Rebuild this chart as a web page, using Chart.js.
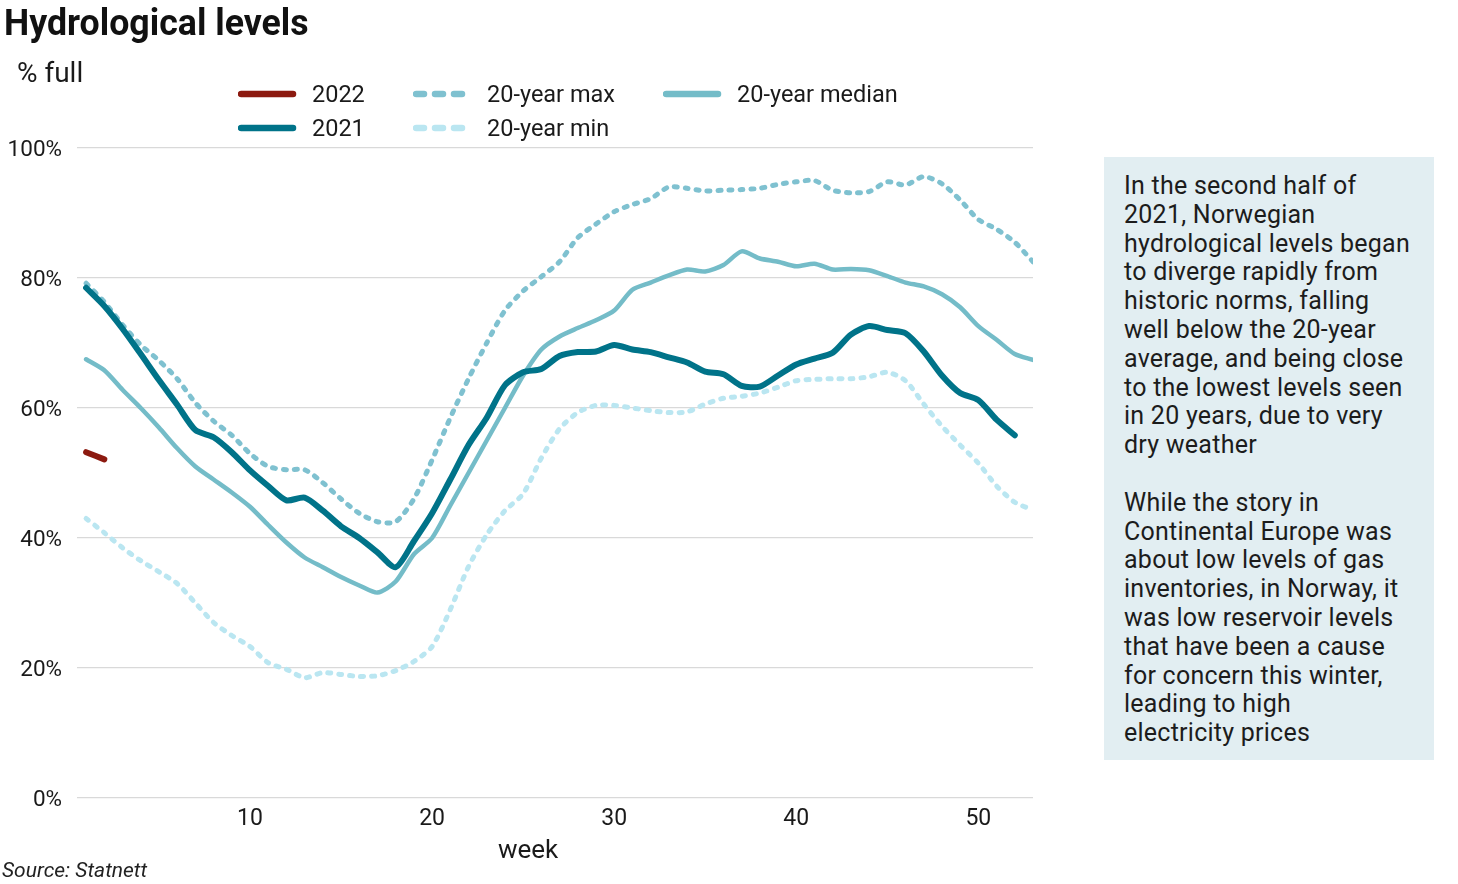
<!DOCTYPE html>
<html>
<head>
<meta charset="utf-8">
<script src="https://cdn.jsdelivr.net/npm/chart.js@4.4.1/dist/chart.umd.min.js"></script>
<style>
  html, body { margin: 0; padding: 0; background: #fff; }
  body { width: 1458px; height: 884px; position: relative; overflow: hidden; font-family: Roboto, "Noto Sans", sans-serif; color: #1a1a1a; }
  #chart { position: absolute; left: 0; top: 0; }
  .txt { position: absolute; white-space: nowrap; line-height: 1; }
  #title { left: 4px; top: 4px; font-size: 37px; font-weight: 700; color: #111; transform: scaleX(0.965); transform-origin: left top; }
  #unit { left: 17px; top: 59px; font-size: 28px; }
  #week { left: 498px; top: 836px; font-size: 26px; }
  #source { left: 2px; top: 860px; font-size: 21px; font-style: italic; color: #222; }
  .leg { position: absolute; font-size: 23.5px; line-height: 1; white-space: nowrap; }
  .leg svg { position: absolute; top: 0; }
  #note { position: absolute; left: 1104px; top: 157px; width: 330px; height: 603px; background: #e2eef2; box-sizing: border-box; padding: 15px 0 0 20px; font-size: 25px; letter-spacing: 0.25px; line-height: 28.8px; color: #1c1c1c; white-space: nowrap; }
</style>
</head>
<body>
<canvas id="chart" width="1060" height="884"></canvas>
<div class="txt" id="title">Hydrological levels</div>
<div class="txt" id="unit">% full</div>
<div class="txt" id="week">week</div>
<div class="txt" id="source">Source: Statnett</div>
<div id="legend"></div>
<div id="note">In the second half of<br>2021, Norwegian<br>hydrological levels began<br>to diverge rapidly from<br>historic norms, falling<br>well below the 20-year<br>average, and being close<br>to the lowest levels seen<br>in 20 years, due to very<br>dry weather<br><br>While the story in<br>Continental Europe was<br>about low levels of gas<br>inventories, in Norway, it<br>was low reservoir levels<br>that have been a cause<br>for concern this winter,<br>leading to high<br>electricity prices</div>
<script>
// week numbers 1..53
const weeks = [1,2,3,4,5,6,7,8,9,10,11,12,13,14,15,16,17,18,19,20,21,22,23,24,25,26,27,28,29,30,31,32,33,34,35,36,37,38,39,40,41,42,43,44,45,46,47,48,49,50,51,52,53];

// reservoir filling, % full
const level2022 = [53.2, 52.1];
const level2021 = [78.5,75.7,72.2,68.3,64.3,60.5,56.6,55.5,53.2,50.4,48,45.8,46.2,44.2,41.8,40,37.8,35.5,39.5,43.8,49,54.3,58.5,63.5,65.5,66,68,68.6,68.7,69.7,69,68.6,67.8,67,65.6,65.2,63.4,63.3,65,66.7,67.6,68.5,71.3,72.6,72,71.5,68.7,65,62.3,61.2,58.2,55.8];
const max20 = [79.2,76.3,72.8,69.7,67.3,64.5,60.8,58,55.8,53,51,50.5,50.5,48.5,46,43.8,42.5,42.5,46,52,58.5,64.5,70,75,78,80.2,82.5,86.2,88.3,90.2,91.3,92.2,94,93.8,93.4,93.5,93.6,93.8,94.4,94.8,95,93.5,93.1,93.3,94.8,94.3,95.6,94.5,92,89,87.5,85.5,82.5];
const min20 = [43,40.8,38.5,36.5,34.8,33,30,27,25,23.3,20.8,19.8,18.5,19.3,19,18.7,18.8,19.6,21,23.3,29,35.6,40.5,44.2,46.8,52.3,56.8,59.3,60.4,60.4,60,59.6,59.3,59.4,60.6,61.5,61.8,62.3,63.2,64.2,64.4,64.5,64.5,64.8,65.5,64.2,60.6,57.2,54.3,51.5,48,45.5,44.3];
const median20 = [67.5,65.8,62.8,60,57,53.8,51,49,47,44.8,42,39.3,37,35.5,34,32.7,31.6,33.3,37.5,40,45,50,55,60,65,69,71,72.3,73.5,75,78.2,79.3,80.4,81.3,81,82,84.1,83,82.5,81.8,82.2,81.3,81.4,81.2,80.3,79.3,78.7,77.5,75.5,72.6,70.5,68.3,67.4];

const weekTicks = [10, 20, 30, 40, 50];
const pctTicks = [0, 20, 40, 60, 80, 100];

const series = [
  { label: '2022', values: level2022, color: '#8c1a10', width: 6, dash: [] },
  { label: '2021', values: level2021, color: '#007389', width: 6, dash: [] },
  { label: '20-year median', values: median20, color: '#74bcc8', width: 4.5, dash: [] },
  { label: '20-year max', values: max20, color: '#7fc1d0', width: 5, dash: [3, 8] },
  { label: '20-year min', values: min20, color: '#bae6f1', width: 5, dash: [3, 8] }
];

// legend (html), laid out in the same grid as the original
const legendSlots = {
  '2022': [238, 94], '2021': [238, 128],
  '20-year max': [413, 94], '20-year min': [413, 128],
  '20-year median': [663, 94]
};
const legendEl = document.getElementById('legend');
series.forEach(s => {
  const [lx, ly] = legendSlots[s.label];
  const item = document.createElement('div');
  item.className = 'leg';
  item.style.left = lx + 'px';
  item.style.top = (ly - 12) + 'px';
  const dashAttr = s.dash.length ? ' stroke-dasharray="8 11"' : '';
  item.innerHTML = '<svg width="60" height="24" style="left:0"><line x1="3" y1="12" x2="55" y2="12" stroke="' + s.color +
    '" stroke-width="6.5" stroke-linecap="round"' + dashAttr + '/></svg>' +
    '<span style="position:absolute;left:74px;top:1px">' + s.label + '</span>';
  legendEl.appendChild(item);
});

new Chart(document.getElementById('chart'), {
  type: 'line',
  data: {
    datasets: series.map(s => ({
      label: s.label,
      data: s.values.map((v, i) => ({ x: weeks[i], y: v })),
      borderColor: s.color,
      backgroundColor: s.color,
      borderWidth: s.width,
      borderDash: s.dash,
      borderCapStyle: 'round',
      borderJoinStyle: 'round',
      pointRadius: 0,
      tension: 0.25,
      fill: false
    }))
  },
  options: {
    responsive: false,
    devicePixelRatio: 1,
    animation: false,
    layout: { padding: { top: 148, right: 27, bottom: 0, left: 0 } },
    plugins: { legend: { display: false }, tooltip: { enabled: false } },
    scales: {
      x: {
        type: 'linear',
        min: 0.5,
        max: 53,
        afterBuildTicks: scale => { scale.ticks = weekTicks.map(v => ({ value: v })); },
        afterFit: scale => { scale.height = 86; },
        grid: { display: false, drawTicks: false },
        border: { display: false },
        ticks: { padding: 7, color: '#1a1a1a', font: { family: 'Roboto', size: 23 } }
      },
      y: {
        min: 0,
        max: 100,
        afterBuildTicks: scale => { scale.ticks = pctTicks.map(v => ({ value: v })); },
        afterFit: scale => { scale.width = 77; },
        grid: { color: '#d9d9d9', lineWidth: 1.2, drawTicks: false },
        border: { display: false },
        ticks: { padding: 15, labelOffset: 2, color: '#1a1a1a', font: { family: 'Roboto', size: 22.5 }, callback: v => v + '%' }
      }
    }
  }
});
</script>
</body>
</html>
